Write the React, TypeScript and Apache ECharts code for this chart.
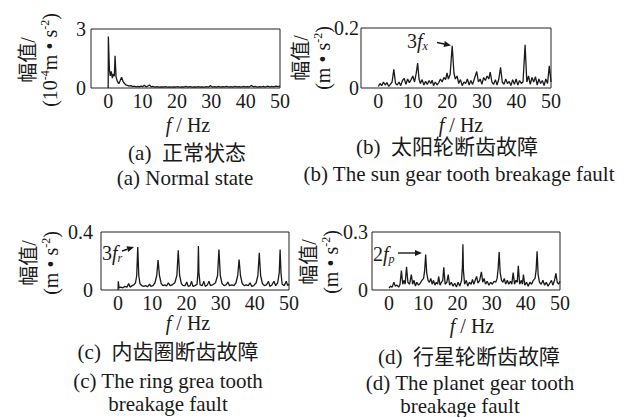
import React, { useEffect, useRef } from "react";
import * as echarts from "echarts";

// Frequency axis tick labels (Hz)
const freqTicks = [0, 10, 20, 30, 40, 50];

// Amplitude spectra as [frequency (Hz), amplitude] pairs
const normalSpectrum: [number, number][] = [
  [0, 0], [0.05, 2.62], [0.35, 0.95], [0.6, 0.62], [0.9, 0.85], [1.2, 0.5], [1.5, 0.72], [1.8, 0.6],
  [2.0, 1.64], [2.3, 0.55], [2.7, 0.32], [3.1, 0.22], [3.5, 0.38], [3.9, 0.55], [4.3, 0.34], [4.7, 0.24],
  [5.1, 0.16], [5.6, 0.13], [6.1, 0.1], [6.6, 0.12], [7.1, 0.07], [7.6, 0.09], [8.1, 0.06], [8.6, 0.08],
  [9.1, 0.06], [9.6, 0.1], [10.1, 0.07], [10.5, 0.14], [11, 0.06], [11.5, 0.09], [12, 0.15], [12.5, 0.06],
  [13, 0.08], [13.6, 0.05], [14.2, 0.07], [14.8, 0.04], [15.4, 0.06], [16, 0.05], [16.6, 0.07], [17.2, 0.04],
  [17.8, 0.06], [18.4, 0.04], [19, 0.06], [19.6, 0.05], [20.2, 0.07], [20.8, 0.04], [21.4, 0.06], [22, 0.05],
  [22.6, 0.08], [23.2, 0.05], [23.8, 0.07], [24.4, 0.04], [25, 0.06], [25.6, 0.05], [26.2, 0.07], [26.8, 0.05],
  [27.4, 0.06], [28, 0.04], [28.6, 0.07], [29.2, 0.05], [29.8, 0.12], [30.3, 0.05], [30.9, 0.07], [31.5, 0.05],
  [32.1, 0.08], [32.7, 0.05], [33.3, 0.07], [33.9, 0.06], [34.5, 0.08], [35.1, 0.05], [35.7, 0.07], [36.3, 0.05],
  [36.9, 0.08], [37.5, 0.06], [38.1, 0.07], [38.7, 0.05], [39.3, 0.08], [39.9, 0.06], [40.5, 0.07], [41.1, 0.06],
  [41.7, 0.13], [42.2, 0.06], [42.8, 0.08], [43.4, 0.05], [44, 0.07], [44.6, 0.06], [45.2, 0.08], [45.8, 0.05],
  [46.4, 0.09], [47, 0.06], [47.6, 0.08], [48.2, 0.06], [48.8, 0.1], [49.4, 0.07], [50, 0.09],
];

const sunGearSpectrum: [number, number][] = [
  [0, 0.005], [0.5, 0.015], [1, 0.008], [1.5, 0.02], [2, 0.01], [2.5, 0.018], [3, 0.006], [3.5, 0.012],
  [4, 0.02], [4.5, 0.062], [5, 0.015], [5.5, 0.01], [6, 0.02], [6.5, 0.008], [7, 0.025], [7.5, 0.032],
  [8, 0.012], [8.5, 0.03], [9, 0.018], [9.5, 0.028], [10, 0.04], [10.5, 0.02], [11, 0.05], [11.4, 0.083],
  [11.8, 0.03], [12.2, 0.015], [12.7, 0.028], [13.2, 0.01], [13.7, 0.022], [14.2, 0.012], [14.7, 0.025],
  [15.2, 0.015], [15.6, 0.026], [16, 0.008], [16.5, 0.02], [17, 0.01], [17.5, 0.018], [18, 0.03], [18.5, 0.02],
  [19, 0.035], [19.5, 0.028], [19.9, 0.05], [20.3, 0.03], [20.8, 0.045], [21.4, 0.141], [21.9, 0.05],
  [22.3, 0.03], [22.8, 0.04], [23.3, 0.015], [23.8, 0.028], [24.3, 0.008], [24.8, 0.02], [25.3, 0.015],
  [25.8, 0.03], [26.3, 0.01], [26.8, 0.025], [27.3, 0.012], [27.8, 0.03], [28.5, 0.055], [29, 0.02],
  [29.5, 0.03], [30, 0.012], [30.5, 0.035], [31, 0.025], [31.5, 0.04], [32, 0.03], [32.4, 0.053], [32.9, 0.02],
  [33.4, 0.012], [33.9, 0.028], [34.4, 0.01], [34.9, 0.03], [35.4, 0.069], [35.9, 0.02], [36.4, 0.012],
  [36.9, 0.03], [37.4, 0.015], [37.9, 0.022], [38.4, 0.008], [38.9, 0.028], [39.4, 0.012], [39.9, 0.03],
  [40.4, 0.01], [40.9, 0.025], [41.4, 0.015], [41.9, 0.02], [42.5, 0.144], [43, 0.02], [43.5, 0.04],
  [44, 0.012], [44.5, 0.035], [45, 0.02], [45.5, 0.038], [46, 0.01], [46.5, 0.03], [47, 0.015], [47.5, 0.025],
  [48, 0.008], [48.5, 0.03], [49, 0.015], [49.5, 0.074], [50, 0.02],
];

const ringGearSpectrum: [number, number][] = [
  [0, 0], [0.05, 0.06], [0.3, 0.015], [0.8, 0.02], [1.4, 0.015], [2, 0.025], [2.6, 0.02], [3.1, 0.045],
  [3.5, 0.02], [4.1, 0.03], [4.6, 0.035], [5.1, 0.05], [5.45, 0.1], [5.75, 0.297], [6.05, 0.1], [6.4, 0.045],
  [6.9, 0.03], [7.5, 0.025], [8.1, 0.03], [8.6, 0.022], [9.2, 0.04], [9.6, 0.025], [10.2, 0.03], [10.8, 0.05],
  [11.3, 0.1], [11.7, 0.206], [12.1, 0.1], [12.6, 0.045], [13.1, 0.03], [13.7, 0.035], [14.2, 0.028],
  [14.7, 0.05], [15.2, 0.03], [15.8, 0.035], [16.6, 0.05], [17.2, 0.1], [17.6, 0.274], [18, 0.1], [18.5, 0.045],
  [19, 0.03], [19.6, 0.03], [20.1, 0.055], [20.5, 0.025], [21.1, 0.03], [21.5, 0.06], [21.9, 0.025],
  [22.5, 0.03], [23.1, 0.04], [23.35, 0.12], [23.5, 0.304], [23.65, 0.12], [24, 0.035], [24.6, 0.03],
  [25.1, 0.06], [25.5, 0.025], [26.1, 0.035], [26.6, 0.06], [27, 0.03], [27.6, 0.035], [28.5, 0.05],
  [29.1, 0.1], [29.5, 0.279], [29.9, 0.1], [30.4, 0.045], [31, 0.03], [31.6, 0.035], [32.1, 0.055],
  [32.6, 0.03], [33.3, 0.035], [33.9, 0.03], [34.5, 0.05], [35, 0.1], [35.4, 0.21], [35.8, 0.1], [36.3, 0.045],
  [36.9, 0.03], [37.5, 0.035], [38.1, 0.03], [38.6, 0.05], [39.1, 0.025], [39.7, 0.03], [40.4, 0.05],
  [40.9, 0.1], [41.3, 0.256], [41.7, 0.1], [42.2, 0.045], [42.8, 0.03], [43.4, 0.035], [44, 0.06],
  [44.4, 0.025], [45, 0.035], [45.6, 0.06], [46.1, 0.03], [46.7, 0.05], [47.15, 0.12], [47.4, 0.279],
  [47.65, 0.12], [48, 0.04], [48.6, 0.03], [49.2, 0.06], [49.6, 0.03], [50, 0.04],
];

const planetGearSpectrum: [number, number][] = [
  [0, 0.01], [0.4, 0.02], [0.9, 0.015], [1.4, 0.04], [1.8, 0.02], [2.3, 0.025], [2.8, 0.015], [3.2, 0.03],
  [3.6, 0.1], [4, 0.03], [4.4, 0.05], [4.7, 0.03], [5.1, 0.12], [5.5, 0.04], [6, 0.03], [6.5, 0.08],
  [6.9, 0.03], [7.3, 0.05], [7.7, 0.02], [8.1, 0.04], [8.6, 0.025], [9.1, 0.035], [9.6, 0.05], [10.1, 0.06],
  [10.4, 0.1], [10.7, 0.184], [11, 0.09], [11.4, 0.05], [11.8, 0.04], [12.2, 0.06], [12.6, 0.03], [13, 0.05],
  [13.4, 0.025], [13.8, 0.04], [14.2, 0.03], [14.5, 0.07], [14.9, 0.025], [15.3, 0.04], [15.7, 0.05],
  [16, 0.117], [16.4, 0.03], [16.9, 0.04], [17.3, 0.08], [17.7, 0.025], [18.2, 0.04], [18.7, 0.02],
  [19.2, 0.035], [19.7, 0.015], [20.2, 0.04], [20.7, 0.02], [21.2, 0.05], [21.45, 0.12], [21.6, 0.237],
  [21.75, 0.1], [22.1, 0.03], [22.6, 0.05], [23, 0.02], [23.5, 0.04], [24, 0.03], [24.4, 0.055], [24.8, 0.03],
  [25.2, 0.05], [25.6, 0.07], [26, 0.035], [26.5, 0.05], [27, 0.094], [27.4, 0.04], [27.8, 0.06], [28.2, 0.03],
  [28.7, 0.045], [29.2, 0.025], [29.7, 0.04], [30.2, 0.03], [30.7, 0.045], [31.2, 0.04], [31.6, 0.06],
  [31.9, 0.11], [32.2, 0.197], [32.5, 0.09], [32.9, 0.05], [33.3, 0.04], [33.7, 0.06], [34.1, 0.03],
  [34.6, 0.05], [35, 0.03], [35.5, 0.045], [35.9, 0.03], [36.3, 0.09], [36.7, 0.03], [37.1, 0.05],
  [37.5, 0.04], [37.8, 0.125], [38.2, 0.03], [38.7, 0.05], [39, 0.03], [39.3, 0.08], [39.7, 0.025],
  [40.2, 0.04], [40.7, 0.02], [41.2, 0.04], [41.7, 0.03], [42.2, 0.05], [42.7, 0.06], [43, 0.1], [43.3, 0.2],
  [43.6, 0.08], [44, 0.04], [44.5, 0.03], [45, 0.05], [45.5, 0.025], [46, 0.04], [46.5, 0.02], [47, 0.035],
  [47.5, 0.05], [47.9, 0.025], [48.4, 0.05], [48.8, 0.086], [49.2, 0.04], [49.6, 0.03], [50, 0.045],
];

// Upper limit of each amplitude axis
const amplitudeMax = [3, 0.2, 0.4, 0.3];

const INK = "#1a1a1a";
const FONT = '"Liberation Serif", "Times New Roman", "Noto Sans CJK SC", serif';

const panels = [
  { data: normalSpectrum, grid: { left: 91, top: 29, width: 189, height: 59 }, labelMargin: 5 },
  { data: sunGearSpectrum, grid: { left: 361, top: 28, width: 190, height: 60 }, labelMargin: 2 },
  { data: ringGearSpectrum, grid: { left: 101, top: 232, width: 188, height: 58 }, labelMargin: 8 },
  { data: planetGearSpectrum, grid: { left: 372, top: 232, width: 188, height: 58 }, labelMargin: 4 },
];

const textStyle = (extra: Record<string, unknown> = {}) => ({
  fill: INK,
  fontFamily: FONT,
  fontSize: 21,
  lineHeight: 20,
  textAlign: "center",
  textVerticalAlign: "middle",
  ...extra,
});

const richBase = {
  n: { fontFamily: FONT, fontSize: 20, color: INK, lineHeight: 22 },
  i: { fontFamily: FONT, fontSize: 20, color: INK, fontStyle: "italic", lineHeight: 22 },
  sup: { fontFamily: FONT, fontSize: 12, color: INK, verticalAlign: "top", lineHeight: 22 },
  sub: { fontFamily: FONT, fontSize: 12, color: INK, fontStyle: "italic", verticalAlign: "bottom", lineHeight: 22 },
};

const richName = {
  n: { fontFamily: FONT, fontSize: 20, color: INK, lineHeight: 16 },
  i: { fontFamily: FONT, fontSize: 20, color: INK, fontStyle: "italic", lineHeight: 16 },
};

const caption = (text: string, x: number, y: number) => ({
  type: "text",
  x,
  y,
  style: textStyle({ text }),
});

const yName = (text: string, x: number, y: number) => ({
  type: "text",
  x,
  y,
  rotation: Math.PI / 2,
  style: textStyle({ text, rich: richBase, lineHeight: 22 }),
});

const xName = (x: number, y: number) => ({
  type: "text",
  x,
  y,
  style: textStyle({ text: "{i|f}{n| / Hz}", rich: richName }),
});

const arrow = (x1: number, y1: number, x2: number, y2: number) => {
  const ang = Math.atan2(y2 - y1, x2 - x1);
  const len = 7;
  const half = 3;
  const bx = x2 - len * Math.cos(ang);
  const by = y2 - len * Math.sin(ang);
  const px = -Math.sin(ang) * half;
  const py = Math.cos(ang) * half;
  return [
    { type: "line", shape: { x1, y1, x2: bx, y2: by }, style: { stroke: INK, lineWidth: 1.4 } },
    {
      type: "polygon",
      shape: { points: [[x2, y2], [bx + px, by + py], [bx - px, by - py]] },
      style: { fill: INK },
    },
  ];
};

const annotation = (num: string, sub: string, x: number, y: number) => ({
  type: "text",
  x,
  y,
  style: textStyle({ text: `{n|${num}}{i|f}{sub|${sub}}`, rich: richBase, textAlign: "left" }),
});

export default function App() {
  const ref = useRef<HTMLDivElement>(null);

  useEffect(() => {
    if (!ref.current) return;
    const chart = echarts.init(ref.current, null, { renderer: "svg" });

    const option: any = {
      animation: false,
      backgroundColor: "#fff",
      grid: panels.map((p) => ({
        ...p.grid,
        show: true,
        borderColor: "#222",
        borderWidth: 1,
        containLabel: false,
        outerBoundsMode: "none",
      })),
      xAxis: panels.map((p, i) => ({
        type: "value",
        gridIndex: i,
        min: -5,
        max: 50,
        axisLine: { show: false },
        axisTick: { show: false },
        splitLine: { show: false },
        axisLabel: {
          customValues: freqTicks,
          fontFamily: FONT,
          fontSize: 20,
          lineHeight: 16,
          color: INK,
          margin: 5,
        },
      })),
      yAxis: panels.map((p, i) => ({
        type: "value",
        gridIndex: i,
        min: 0,
        max: amplitudeMax[i],
        interval: amplitudeMax[i],
        axisLine: { show: false },
        axisTick: { show: false },
        splitLine: { show: false },
        axisLabel: {
          fontFamily: FONT,
          fontSize: 20,
          lineHeight: 16,
          color: INK,
          margin: p.labelMargin,
        },
      })),
      series: panels.map((p, i) => ({
        type: "line",
        xAxisIndex: i,
        yAxisIndex: i,
        data: p.data,
        showSymbol: false,
        lineStyle: { color: INK, width: 1.3 },
        silent: true,
      })),
      graphic: [
        yName("{n|幅值/}\n{n|(10}{sup|-4}{n|m • s}{sup|-2}{n|)}", 39, 60),
        yName("{n|幅值/}\n{n|(m • s}{sup|-2}{n|)}", 312, 58),
        yName("{n|幅值/}\n{n|(m • s}{sup|-2}{n|)}", 40, 263),
        yName("{n|幅值/}\n{n|(m • s}{sup|-2}{n|)}", 320, 262),
        xName(188, 125),
        xName(461, 125),
        xName(188, 323),
        xName(472, 326),
        caption("(a)  正常状态", 187, 153),
        caption("(a) Normal state", 185, 178),
        caption("(b)  太阳轮断齿故障", 447, 147),
        caption("(b) The sun gear tooth breakage fault", 459, 174),
        caption("(c)  内齿圈断齿故障", 168, 352),
        caption("(c) The ring grea tooth", 168, 381),
        caption("breakage fault", 168, 404),
        caption("(d)  行星轮断齿故障", 469, 357),
        caption("(d) The planet gear tooth", 470, 383),
        caption("breakage fault", 460, 406),
        annotation("3", "x", 407, 41),
        ...arrow(437, 42.5, 451, 45.5),
        annotation("3", "r", 102, 253),
        ...arrow(122, 251, 134, 247),
        annotation("2", "p", 373, 254),
        ...arrow(398, 253, 422, 253),
      ],
    };

    chart.setOption(option);
    return () => chart.dispose();
  }, []);

  return (
    <div
      ref={ref}
      style={{ position: "fixed", left: 0, top: 0, width: 630, height: 417, background: "#fff" }}
    />
  );
}
